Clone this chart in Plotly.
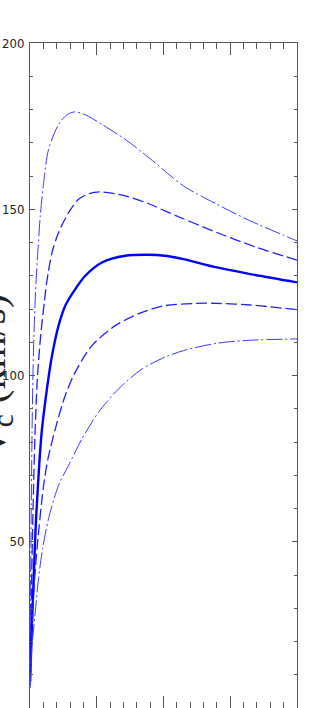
import plotly.graph_objects as go

# radius (arbitrary units 0-20) and circular velocity (km/s)
r_a = [0.01, 0.07, 0.15, 0.22, 0.3, 0.45, 0.6, 0.77, 1.02, 1.39, 2.14, 2.8, 3.39, 4.2, 5.39, 7.14, 9.0, 11.5, 14.0, 16.5, 20.0]
v_a = [12, 49, 82, 100, 113, 128, 138, 148, 158, 168, 175.5, 178.5, 179.3, 178.3, 175.5, 171, 165.2, 157, 151.5, 146.5, 140.5]

r_b = [0.01, 0.17, 0.35, 0.55, 0.8, 1.07, 1.27, 1.65, 2.14, 2.89, 3.64, 4.5, 5.39, 7.14, 9.0, 10.1, 14.0, 17.0, 20.0]
v_b = [10, 49, 79, 99, 112, 122, 128.5, 137, 143, 149, 153, 154.8, 155.2, 154, 151.5, 149.5, 143, 138.5, 134.7]

r_c = [0.01, 0.1, 0.22, 0.37, 0.47, 0.72, 0.9, 1.27, 1.65, 2.14, 2.64, 3.39, 4.14, 5.39, 7.14, 8.88, 10.1, 11.5, 14.0, 16.5, 20.0]
v_c = [8, 20, 33, 49, 58, 75, 84, 96, 106, 115, 121, 126, 130, 134, 136, 136.3, 136, 135, 132.5, 130.5, 128]

r_d = [0.01, 0.27, 0.55, 1.02, 1.35, 1.9, 2.64, 3.39, 4.64, 6.39, 8.4, 10.1, 12.5, 14.0, 16.5, 20.0]
v_d = [7, 34, 49, 67, 75, 84, 94, 101, 109, 115, 119, 121, 121.7, 121.7, 121.2, 119.8]

r_e = [0.01, 0.1, 0.4, 0.64, 0.95, 1.39, 2.14, 2.89, 3.9, 5.14, 6.64, 8.4, 10.1, 11.5, 14.0, 16.5, 20.0]
v_e = [6, 16, 29, 39, 48, 57, 67, 73, 81, 89, 96, 102, 105.5, 107.5, 109.7, 110.6, 111]

y_ticks = [0, 50, 100, 150, 200]
y_title = "V<sub>c</sub> (km/s)"

fig = go.Figure()
styles = [
    (r_a, v_a, dict(color="#3a3aff", width=1, dash="16px,3px,2px,3px")),
    (r_b, v_b, dict(color="#2020ff", width=1.3, dash="11px,4px")),
    (r_c, v_c, dict(color="#0000ff", width=2.4)),
    (r_d, v_d, dict(color="#2020ff", width=1.3, dash="11px,4px")),
    (r_e, v_e, dict(color="#3a3aff", width=1, dash="16px,3px,2px,3px")),
]
for rx, vy, ln in styles:
    fig.add_trace(go.Scatter(x=rx, y=vy, mode="lines", line=dict(shape="spline", smoothing=0.8, **ln),
                             showlegend=False, hoverinfo="skip"))

axcol = "#555555"
fig.update_xaxes(range=[0, 20], showgrid=False, zeroline=False, showline=True, linecolor=axcol, linewidth=1,
                 mirror="ticks", ticks="inside", ticklen=12, tickcolor=axcol, dtick=5, tick0=0,
                 showticklabels=False, automargin=False,
                 minor=dict(ticks="inside", ticklen=6, dtick=1, tickcolor=axcol, showgrid=False))
fig.update_yaxes(range=[0, 200], showgrid=False, zeroline=False, showline=True, linecolor=axcol, linewidth=1,
                 mirror="ticks", ticks="inside", ticklen=5, tickcolor=axcol, automargin=False,
                 tickvals=y_ticks, ticktext=[str(t) for t in y_ticks], ticklabelstandoff=2,
                 tickfont=dict(family="Liberation Sans Narrow, DejaVu Sans Condensed, sans-serif", size=13, color="#222222"),
                 minor=dict(ticks="inside", ticklen=3, dtick=10, tickcolor=axcol, showgrid=False))

fig.add_annotation(text=y_title, xref="paper", yref="paper", x=-0.138, y=0.5, xanchor="center", yanchor="middle",
                   textangle=-90, showarrow=False,
                   font=dict(family="Liberation Serif, serif", size=42, color="#222222"))

fig.update_layout(width=314, height=708, margin=dict(l=30, r=17, t=43, b=0),
                  paper_bgcolor="white", plot_bgcolor="white")
fig.write_html("out.html", config={"displayModeBar": False},
               post_script="document.body.style.margin='0';document.body.style.overflow='hidden';")
